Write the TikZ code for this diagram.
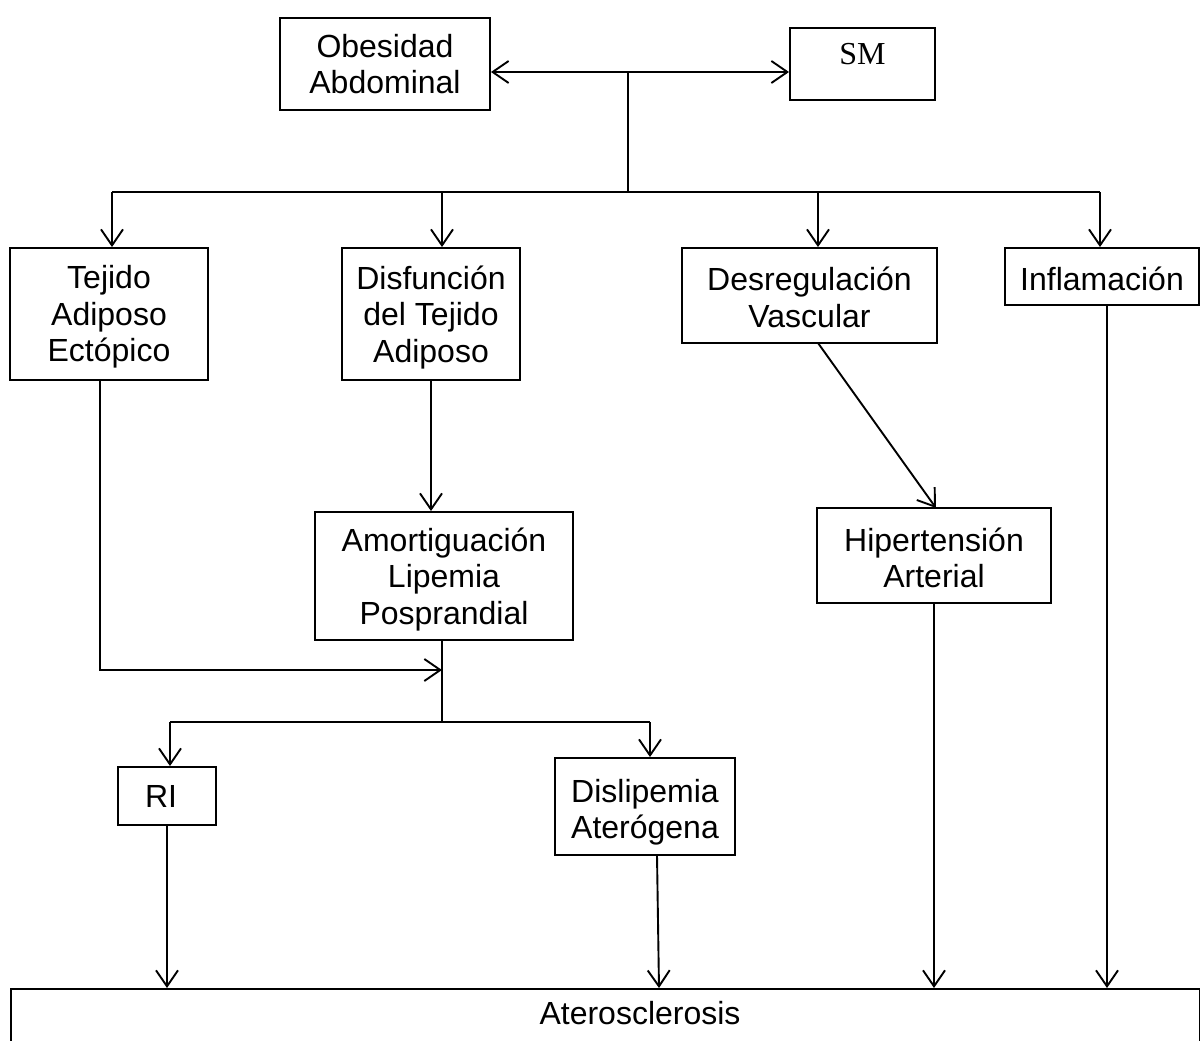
\documentclass[tikz,border=0pt]{standalone}
\usepackage{fontspec}
\setmainfont{Liberation Sans}
\newfontfamily\smfont{Liberation Serif}
\usetikzlibrary{arrows.meta,calc}
\newcommand\bxt[2]{\raisebox{-#1pt}[\height][\depth]{\begin{tabular}{@{}c@{}}#2\end{tabular}}}
\begin{document}
\begin{tikzpicture}[x=1pt,y=-1pt, line width=1.9pt,
  box/.style={draw, line width=1.9pt, inner sep=0pt, align=center,
    font=\fontsize{32}{36.5}\selectfont},
  arr/.style={-{Straight Barb[length=16pt,width=22pt]}},
  darr/.style={{Straight Barb[length=16pt,width=22pt]}-{Straight Barb[length=16pt,width=22pt]}}]
\useasboundingbox (0,0) rectangle (1200,1041);
\clip (0,0) rectangle (1200,1041);
% nodes
\node[box, minimum width=210pt, minimum height=92pt] (oa) at (385,64) {\bxt{4.3}{Obesidad\\Abdominal}};
\node[box, minimum width=145pt, minimum height=72pt] (sm) at (862.5,64) {\raisebox{10pt}[\height][\depth]{\smfont SM}};
\node[box, minimum width=198pt, minimum height=132pt] (tae) at (109,314) {\bxt{4.1}{Tejido\\Adiposo\\Ectópico}};
\node[box, minimum width=178pt, minimum height=132pt] (dta) at (431,314) {\bxt{4.3}{Disfunción\\del Tejido\\Adiposo}};
\node[box, minimum width=255pt, minimum height=95pt] (dv) at (809.5,295.5) {\bxt{6.3}{Desregulación\\Vascular}};
\node[box, minimum width=194pt, minimum height=57pt] (inf) at (1102,276.5) {\bxt{7}{Inflamación}};
\node[box, minimum width=258pt, minimum height=128pt] (alp) at (444,576) {\bxt{4.6}{Amortiguación\\Lipemia\\Posprandial}};
\node[box, minimum width=234pt, minimum height=95pt] (ha) at (934,555.5) {\bxt{6.8}{Hipertensión\\Arterial}};
\node[box, minimum width=98pt, minimum height=58pt] (ri) at (167,796) {\bxt{4}{RI\hspace*{12pt}}};
\node[box, minimum width=180pt, minimum height=97pt] (da) at (645,806.5) {\bxt{6.8}{Dislipemia\\Aterógena}};
\node[box, minimum width=1189pt, minimum height=80pt, anchor=north west] (at) at (10,988) {};
\node[font=\fontsize{32}{36.5}\selectfont, inner sep=0pt] (attext) at (640,1013) {Aterosclerosis};
% coordinates
\coordinate (j0) at (628,72);
\coordinate (j1) at (628,192);
\coordinate (b1) at (112,192);
\coordinate (b2) at (442,192);
\coordinate (b3) at (818,192);
\coordinate (b4) at (1100,192);
\coordinate (t1) at (100,670);
\coordinate (m1) at (442,670);
\coordinate (m2) at (442,722);
\coordinate (r1) at (170,722);
\coordinate (r2) at (650,722);
\coordinate (dvs) at (818,343);
\coordinate (han) at (936,508);
\coordinate (das) at (657,855);
\coordinate (infs) at (1107,305);
% connectors
\draw[darr] (oa.east |- j0) -- (sm.west |- j0);
\draw (j0) -- (j1);
\draw (b1) -- (b4);
\draw[arr] (b1) -- (b1 |- tae.north);
\draw[arr] (b2) -- (b2 |- dta.north);
\draw[arr] (b3) -- (b3 |- dv.north);
\draw[arr] (b4) -- (b4 |- inf.north);
\draw[arr] (dta.south) -- (dta.south |- alp.north);
\draw[arr] (dvs) -- (han);
\draw[arr] (tae.south -| t1) -- (t1) -- (m1);
\draw (alp.south -| m1) -- (m2);
\draw (r1) -- (r2);
\draw[arr] (r1) -- (r1 |- ri.north);
\draw[arr] (r2) -- (r2 |- da.north);
\draw[arr] (ri.south) -- (ri.south |- at.north);
\draw[arr] (das) -- ($(das |- at.north)+(2,0)$);
\draw[arr] (ha.south) -- (ha.south |- at.north);
\draw[arr] (infs) -- (infs |- at.north);
\end{tikzpicture}
\end{document}
